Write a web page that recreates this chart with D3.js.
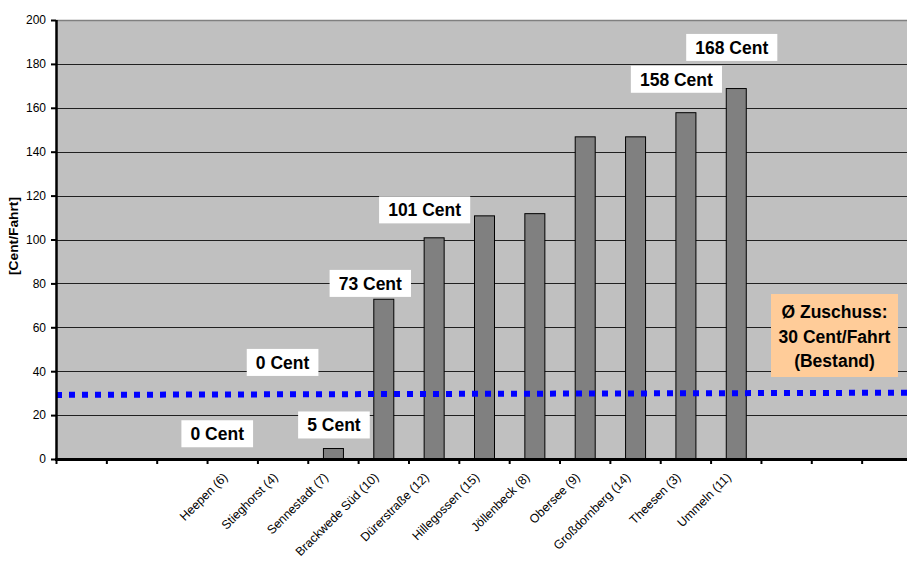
<!DOCTYPE html>
<html><head><meta charset="utf-8">
<script src="https://cdn.jsdelivr.net/npm/d3@7"></script>
<style>body{margin:0;background:#fff}svg{display:block;font-family:"Liberation Sans",Arial,sans-serif}</style>
</head><body>
<svg id="c" width="907" height="561"></svg>
<script>
const categories = ["", "", "", "Heepen (6)", "Stieghorst (4)", "Sennestadt (7)", "Brackwede Süd (10)", "Dürerstraße (12)", "Hillegossen (15)", "Jöllenbeck (8)", "Obersee (9)", "Großdornberg (14)", "Theesen (3)", "Ummeln (11)", " ", "  ", "   "];
const values = [null, null, null, 0, 0, 5, 73, 101, 111, 112, 147, 147, 158, 169, null, null, null];
const yTicks = [0, 20, 40, 60, 80, 100, 120, 140, 160, 180, 200];
const avgLine = [29.2, 30.2]; // start / end of the average line
const labels = [
  {text: "0 Cent", cat: 3, dx: -15, v: 11.5},
  {text: "0 Cent", cat: 4, dx: 0, v: 44},
  {text: "5 Cent", cat: 5, dx: 1, v: 15.5},
  {text: "73 Cent", cat: 6, dx: -13, v: 80},
  {text: "101 Cent", cat: 7, dx: -9, v: 113.5},
  {text: "158 Cent", cat: 12, dx: -9, v: 173},
  {text: "168 Cent", cat: 13, dx: -4, v: 187.5}
];
const legendLines = ["Ø Zuschuss:", "30 Cent/Fahrt", "(Bestand)"];

const svg = d3.select("#c");
const m = {l: 56, t: 20, r: 912, b: 459};
const x = d3.scaleBand().domain(d3.range(categories.length)).range([m.l, m.r]).paddingInner(0).paddingOuter(0);
const y = d3.scaleLinear().domain([0, 200]).range([m.b, m.t]);

svg.append("rect").attr("x", m.l).attr("y", m.t).attr("width", m.r - m.l).attr("height", m.b - m.t).attr("fill", "#C0C0C0");

// grid
svg.append("g").selectAll("line").data(yTicks.filter(d => d > 0)).join("line")
  .attr("x1", m.l).attr("x2", m.r).attr("y1", d => Math.round(y(d)) + 0.5).attr("y2", d => Math.round(y(d)) + 0.5)
  .attr("stroke", d => d === 200 ? "#808080" : "#202020").attr("stroke-width", d => d === 200 ? 1.5 : 1);

// bars
const bw = 20;
svg.append("g").selectAll("rect").data(values.map((v, i) => ({v, i})).filter(d => d.v !== null && d.v > 0)).join("rect")
  .attr("x", d => x(d.i) + x.bandwidth() / 2 - bw / 2 + 0.5)
  .attr("y", d => y(d.v) + 0.5)
  .attr("width", bw).attr("height", d => y(0) - y(d.v))
  .attr("fill", "#808080").attr("stroke", "#000").attr("stroke-width", 1);

// average line
svg.append("line").attr("x1", m.l).attr("x2", 907)
  .attr("y1", y(avgLine[0])).attr("y2", y(avgLine[1]))
  .attr("stroke", "#0000FF").attr("stroke-width", 6).attr("stroke-dasharray", "6,7");

// y axis
const ya = d3.axisLeft(y).tickValues(yTicks).tickSize(5).tickPadding(5);
const gy = svg.append("g").attr("transform", `translate(${m.l},0)`).call(ya);
gy.select(".domain").attr("stroke", "#000").attr("stroke-width", 2.5).attr("d", `M0.5,${m.t}V${m.b + 1}`);
gy.selectAll(".tick line").attr("stroke", "#000").attr("stroke-width", 2);
gy.selectAll("text").attr("font-size", 12).attr("fill", "#000").attr("font-family", "Liberation Sans, Arial, sans-serif");

// x axis
const xa = d3.axisBottom(x).tickSize(0).tickFormat(i => categories[i]);
const gx = svg.append("g").attr("transform", `translate(0,${m.b})`).call(xa);
gx.select(".domain").attr("stroke", "#000").attr("stroke-width", 3).attr("d", `M${m.l - 1},0.5H${m.r}`);
gx.selectAll(".tick text").attr("font-size", 12.3).attr("fill", "#000").attr("font-family", "Liberation Sans, Arial, sans-serif")
  .attr("text-anchor", "end").attr("transform", "translate(-7,16) rotate(-45)").attr("dy", "0.35em").attr("y", 0);
// boundary ticks
svg.append("g").selectAll("line").data(d3.range(categories.length + 1)).join("line")
  .attr("x1", i => (i < categories.length ? x(i) : m.r) + 0.5).attr("x2", i => (i < categories.length ? x(i) : m.r) + 0.5)
  .attr("y1", m.b).attr("y2", m.b + 5).attr("stroke", "#000").attr("stroke-width", 2);

// y axis title
svg.append("text").attr("transform", `translate(18,236) rotate(-90)`)
  .attr("text-anchor", "middle").attr("font-size", 12.5).attr("font-weight", "bold")
  .attr("textLength", 78).attr("lengthAdjust", "spacingAndGlyphs").text("[Cent/Fahrt]");

// data labels
const lg = svg.append("g");
labels.forEach(L => {
  const cx = x(L.cat) + x.bandwidth() / 2 + L.dx;
  const cy = y(L.v);
  const t = lg.append("text").attr("x", cx).attr("y", cy).attr("dy", "0.36em")
    .attr("text-anchor", "middle").attr("font-size", 17.5).attr("font-weight", "bold").text(L.text);
  const bb = t.node().getBBox();
  lg.insert("rect", "text").attr("x", cx - bb.width / 2 - 9).attr("y", cy - 13.5)
    .attr("width", bb.width + 18).attr("height", 27).attr("fill", "#fff");
});

// legend box
const lgx = 771, lgy = 294, lgw = 127, lgh = 83;
svg.append("rect").attr("x", lgx).attr("y", lgy).attr("width", lgw).attr("height", lgh).attr("fill", "#FFCC99");
svg.append("g").selectAll("text").data(legendLines).join("text")
  .attr("x", lgx + lgw / 2).attr("y", (d, i) => lgy + 18 + i * 24.5).attr("dy", "0.36em")
  .attr("text-anchor", "middle").attr("font-size", 17.5).attr("font-weight", "bold").text(d => d);
</script>
</body></html>
